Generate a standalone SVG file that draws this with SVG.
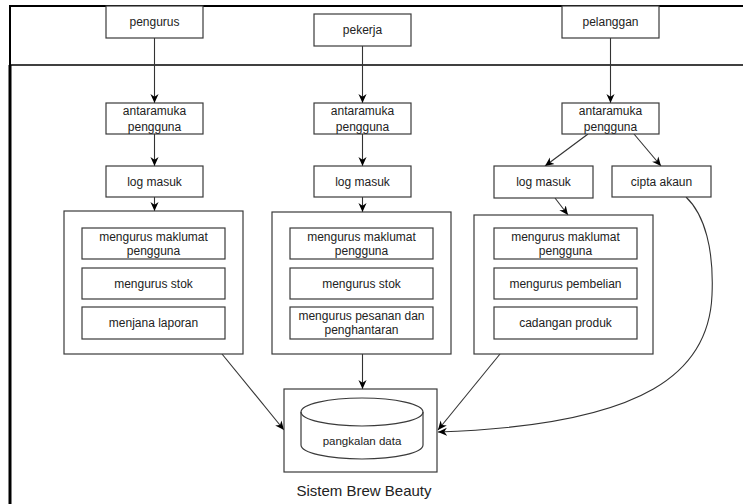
<svg xmlns="http://www.w3.org/2000/svg" width="743" height="504" viewBox="0 0 743 504">
<defs>
<style>
.box{fill:#fff;stroke:#3a3a3a;stroke-width:1.2}
.t{font-family:"Liberation Sans",Arial,sans-serif;font-size:12px;fill:#222;text-anchor:middle;dominant-baseline:central}
.c{fill:none;stroke:#333;stroke-width:1.1}
.frame{fill:none;stroke:#000}
</style>
<marker id="ah" viewBox="0 0 10 10" refX="10" refY="5" markerWidth="9" markerHeight="9" markerUnits="userSpaceOnUse" orient="auto">
<path d="M0,0.5 L10,5 L0,9.5 L3,5 z" fill="#000"/>
</marker>
</defs>
<rect x="0" y="0" width="743" height="504" fill="#fff"/>
<g id="frame">
<line class="frame" x1="10" y1="6" x2="743" y2="6" stroke-width="2"/>
<line class="frame" x1="10" y1="65" x2="743" y2="65" stroke-width="1.6"/>
<line class="frame" x1="10" y1="5" x2="10" y2="65" stroke-width="2"/>
<line class="frame" x1="10" y1="65" x2="10" y2="504" stroke-width="3"/>
</g>
<g id="connectors">
<line class="c" x1="154.5" y1="38" x2="154.5" y2="103" marker-end="url(#ah)"/>
<line class="c" x1="154.5" y1="134" x2="154.5" y2="166" marker-end="url(#ah)"/>
<line class="c" x1="154.5" y1="197" x2="154.5" y2="211" marker-end="url(#ah)"/>
<line class="c" x1="362.5" y1="46" x2="362.5" y2="103" marker-end="url(#ah)"/>
<line class="c" x1="362.5" y1="134" x2="362.5" y2="166" marker-end="url(#ah)"/>
<line class="c" x1="362.5" y1="197" x2="362.5" y2="212" marker-end="url(#ah)"/>
<line class="c" x1="610.5" y1="38" x2="610.5" y2="103" marker-end="url(#ah)"/>
<line class="c" x1="588" y1="134" x2="545" y2="166" marker-end="url(#ah)"/>
<line class="c" x1="634" y1="134" x2="661" y2="166" marker-end="url(#ah)"/>
<line class="c" x1="555" y1="198" x2="568" y2="215" marker-end="url(#ah)"/>
<line class="c" x1="222" y1="354" x2="284" y2="430" marker-end="url(#ah)"/>
<line class="c" x1="362.5" y1="354" x2="362.5" y2="389" marker-end="url(#ah)"/>
<line class="c" x1="500" y1="354" x2="438" y2="430" marker-end="url(#ah)"/>
<path class="c" d="M686,197 C705,215 714,250 712,295 C709,370 650,425 438,432" marker-end="url(#ah)"/>
</g>
<g id="pengurus">
<rect class="box" x="106" y="6" width="97" height="32"/>
<text class="t" x="154.5" y="22">pengurus</text>
</g>
<g id="pekerja">
<rect class="box" x="314" y="14" width="97" height="32"/>
<text class="t" x="362.5" y="30">pekerja</text>
</g>
<g id="pelanggan">
<rect class="box" x="562" y="6" width="97" height="32"/>
<text class="t" x="610.5" y="22">pelanggan</text>
</g>
<g id="antaramuka1">
<rect class="box" x="106" y="103" width="97" height="31"/>
<text class="t" x="154.5" y="111">antaramuka</text>
<text class="t" x="154.5" y="126.5">pengguna</text>
</g>
<g id="antaramuka2">
<rect class="box" x="314" y="103" width="97" height="31"/>
<text class="t" x="362.5" y="111">antaramuka</text>
<text class="t" x="362.5" y="126.5">pengguna</text>
</g>
<g id="antaramuka3">
<rect class="box" x="562" y="103" width="97" height="31"/>
<text class="t" x="610.5" y="111">antaramuka</text>
<text class="t" x="610.5" y="126.5">pengguna</text>
</g>
<g id="logmasuk1">
<rect class="box" x="106" y="166" width="97" height="31"/>
<text class="t" x="154.5" y="181.5">log masuk</text>
</g>
<g id="logmasuk2">
<rect class="box" x="314" y="166" width="97" height="31"/>
<text class="t" x="362.5" y="181.5">log masuk</text>
</g>
<g id="logmasuk3">
<rect class="box" x="494" y="166" width="99" height="32"/>
<text class="t" x="543.5" y="182">log masuk</text>
</g>
<g id="ciptaakaun">
<rect class="box" x="612" y="166" width="99" height="31"/>
<text class="t" x="661.5" y="181.5">cipta akaun</text>
</g>
<g id="modul1">
<rect class="box" x="64" y="211" width="179" height="143"/>
<rect class="box" x="82" y="228" width="143" height="31"/>
<text class="t" x="153.5" y="236.5">mengurus maklumat</text>
<text class="t" x="153.5" y="251">pengguna</text>
<rect class="box" x="82" y="268" width="143" height="31"/>
<text class="t" x="153.5" y="283.5">mengurus stok</text>
<rect class="box" x="82" y="307" width="143" height="32"/>
<text class="t" x="153.5" y="323">menjana laporan</text>
</g>
<g id="modul2">
<rect class="box" x="272" y="212" width="179" height="142"/>
<rect class="box" x="290" y="228" width="143" height="31"/>
<text class="t" x="361.5" y="236.5">mengurus maklumat</text>
<text class="t" x="361.5" y="251">pengguna</text>
<rect class="box" x="290" y="268" width="143" height="31"/>
<text class="t" x="361.5" y="283.5">mengurus stok</text>
<rect class="box" x="290" y="307" width="143" height="32"/>
<text class="t" x="361.5" y="315.5">mengurus pesanan dan</text>
<text class="t" x="361.5" y="330">penghantaran</text>
</g>
<g id="modul3">
<rect class="box" x="474" y="215" width="179" height="139"/>
<rect class="box" x="494" y="228" width="143" height="31"/>
<text class="t" x="565.5" y="236.5">mengurus maklumat</text>
<text class="t" x="565.5" y="251">pengguna</text>
<rect class="box" x="494" y="268" width="143" height="31"/>
<text class="t" x="565.5" y="283.5">mengurus pembelian</text>
<rect class="box" x="494" y="307" width="143" height="32"/>
<text class="t" x="565.5" y="323">cadangan produk</text>
</g>
<g id="pangkalandata">
<rect class="box" x="284" y="389" width="153" height="83"/>
<path class="box" d="M301,412 a61,14 0 0,1 122,0 v33 a61,14 0 0,1 -122,0 z"/>
<path fill="none" stroke="#3a3a3a" stroke-width="1.2" d="M301,412 a61,14 0 0,0 122,0"/>
<text class="t" x="362" y="441" style="font-size:11.5px">pangkalan data</text>
</g>
<g id="label">
<text class="t" x="364" y="490" style="font-size:15px">Sistem Brew Beauty</text>
</g>
</svg>
